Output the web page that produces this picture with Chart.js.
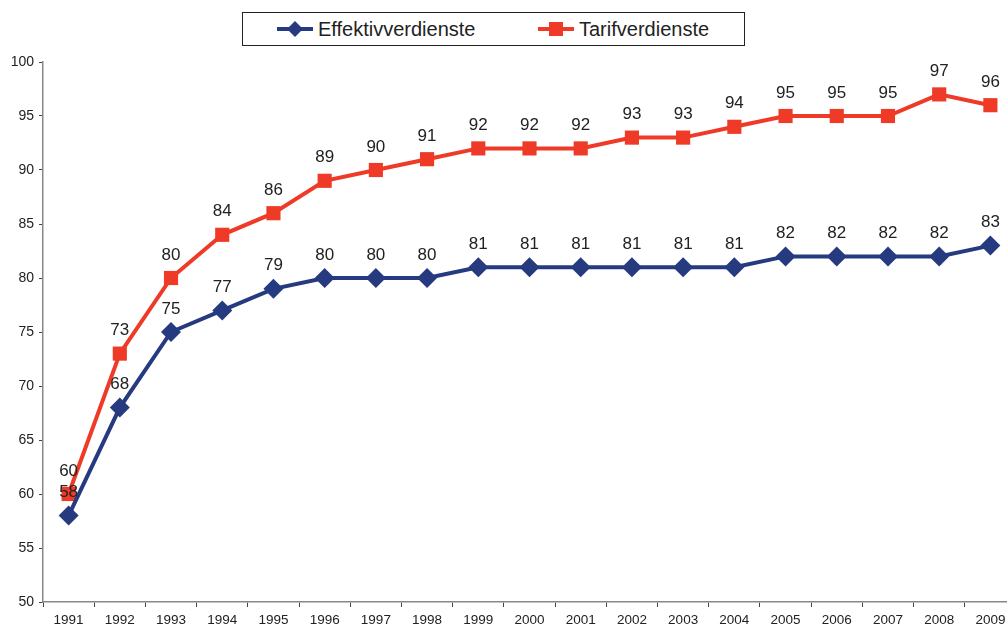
<!DOCTYPE html>
<html><head><meta charset="utf-8">
<script src="https://cdn.jsdelivr.net/npm/chart.js@4/dist/chart.umd.min.js"></script>
<style>
html,body{margin:0;padding:0;background:#fff;overflow:hidden;}
#wrap{position:relative;width:1026px;height:630px;}
#legend{position:absolute;left:242px;top:12px;width:501px;height:32px;border:1px solid #222;background:#fff;font-family:"Liberation Sans",Arial,sans-serif;font-size:20px;color:#222;}
.item{position:absolute;top:0;height:32px;line-height:32px;}
.item canvas{position:absolute;top:0;left:0;}
.item span{position:absolute;left:42px;top:0;white-space:nowrap;}
</style></head><body>
<div id="wrap">
<canvas id="c" width="1026" height="630"></canvas>
<div id="legend">
 <div class="item" style="left:33px"><canvas id="l1" width="40" height="32"></canvas><span>Effektivverdienste</span></div>
 <div class="item" style="left:294px"><canvas id="l2" width="40" height="32"></canvas><span>Tarifverdienste</span></div>
</div>
</div>
<script>
const years = ["1991","1992","1993","1994","1995","1996","1997","1998","1999","2000","2001","2002","2003","2004","2005","2006","2007","2008","2009"];
const effektiv = [58,68,75,77,79,80,80,80,81,81,81,81,81,81,82,82,82,82,83];
const tarif = [60,73,80,84,86,89,90,91,92,92,92,93,93,94,95,95,95,97,96];
const seriesNames = ["Effektivverdienste","Tarifverdienste"];
const blue = "#263a80", red = "#ee3a26";
const font = "'Liberation Sans', Arial, sans-serif";

const labelPlugin = {
  id: 'vals',
  afterDatasetsDraw(chart) {
    const ctx = chart.ctx;
    ctx.save();
    ctx.font = "17px " + font;
    ctx.fillStyle = "#222";
    ctx.textAlign = "center";
    ctx.textBaseline = "middle";
    chart.data.datasets.forEach((ds, i) => {
      const meta = chart.getDatasetMeta(i);
      meta.data.forEach((pt, j) => {
        ctx.fillText(String(ds.data[j]), pt.x, pt.y - 23);
      });
    });
    ctx.restore();
  }
};

new Chart(document.getElementById('c'), {
  type: 'line',
  data: {
    labels: years,
    datasets: [
      {label: seriesNames[0], data: effektiv, borderColor: blue, backgroundColor: blue, borderWidth: 4,
       pointStyle: 'rectRot', pointRadius: 10, pointHoverRadius: 10, pointBorderWidth: 0, tension: 0},
      {label: seriesNames[1], data: tarif, borderColor: red, backgroundColor: red, borderWidth: 4,
       pointStyle: 'rect', pointRadius: 10, pointHoverRadius: 10, pointBorderWidth: 0, tension: 0}
    ]
  },
  options: {
    responsive: false, animation: false, devicePixelRatio: 1,
    layout: {padding: {top: 62, left: 0, right: 0, bottom: 0}},
    plugins: {legend: {display: false}, tooltip: {enabled: false}},
    scales: {
      x: {
        offset: true,
        grid: {offset: true, drawOnChartArea: false, color: '#666', tickLength: 5, tickColor: '#444'},
        border: {color: '#888', width: 1.5},
        ticks: {font: {family: font, size: 13.5}, color: '#222', padding: 5, maxRotation: 0, autoSkip: false},
        afterFit(s) { s.height = 28; }
      },
      y: {
        min: 50, max: 100,
        grid: {drawOnChartArea: false, color: '#666', tickLength: 4, tickColor: '#444'},
        border: {color: '#888', width: 1.5},
        ticks: {stepSize: 5, font: {family: font, size: 14}, color: '#222', padding: 5},
        afterFit(s) { s.width = 43; }
      }
    }
  },
  plugins: [labelPlugin]
});

function legendIcon(id, color, style) {
  const c = document.getElementById(id).getContext('2d');
  c.strokeStyle = color; c.fillStyle = color; c.lineWidth = 4;
  c.beginPath(); c.moveTo(1, 16); c.lineTo(37, 16); c.stroke();
  c.beginPath();
  if (style === 'diamond') { c.moveTo(19, 8); c.lineTo(27, 16); c.lineTo(19, 24); c.lineTo(11, 16); c.closePath(); }
  else { c.rect(12, 9, 14, 14); }
  c.fill();
}
legendIcon('l1', blue, 'diamond');
legendIcon('l2', red, 'rect');
</script>
</body></html>
